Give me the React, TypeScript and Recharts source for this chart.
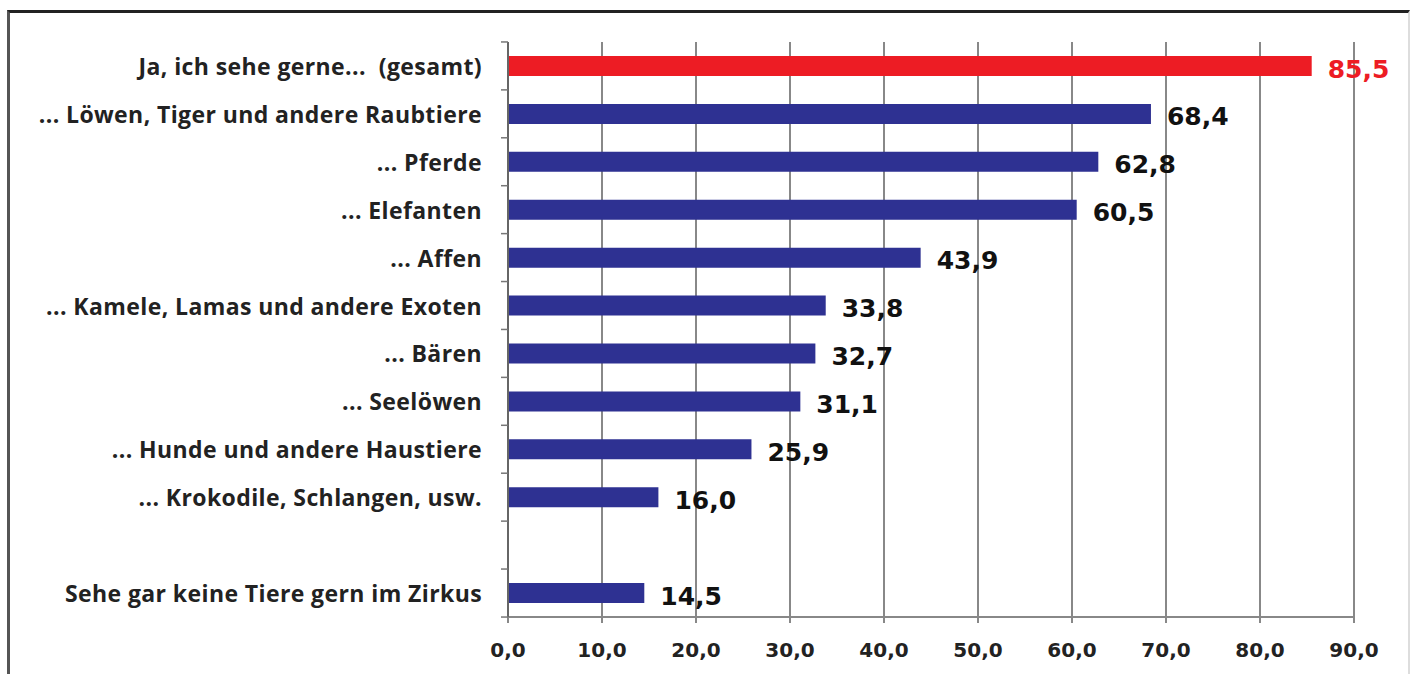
import { BarChart, Bar, XAxis, YAxis, CartesianGrid, LabelList, Cell } from "recharts"

const categories = [
  "Ja, ich sehe gerne...  (gesamt)",
  "... Löwen, Tiger und andere Raubtiere",
  "... Pferde",
  "... Elefanten",
  "... Affen",
  "... Kamele, Lamas und andere Exoten",
  "... Bären",
  "... Seelöwen",
  "... Hunde und andere Haustiere",
  "... Krokodile, Schlangen, usw.",
  "",
  "Sehe gar keine Tiere gern im Zirkus",
]
const values: (number | null)[] = [85.5, 68.4, 62.8, 60.5, 43.9, 33.8, 32.7, 31.1, 25.9, 16.0, null, 14.5]
const xTicks = [0, 10, 20, 30, 40, 50, 60, 70, 80, 90]

const RED = "#ed1c24"
const BLUE = "#2e3192"

const data = categories.map((name, i) => ({ name, value: values[i] }))

const fmt = (v: number) => v.toFixed(1).replace(".", ",")

// category label plus the small boundary tick marks Excel draws between rows
function YTick(props: any) {
  const { x, y, payload, index } = props
  const half = 24
  const ax = x + 26
  return (
    <g>
      <line x1={ax - 7} x2={ax} y1={y - half} y2={y - half} stroke="#777" strokeWidth={1.5} />
      {index === categories.length - 1 && (
        <line x1={ax - 7} x2={ax} y1={y + half} y2={y + half} stroke="#777" strokeWidth={1.5} />
      )}
      <text
        x={x}
        y={y}
        textAnchor="end"
        dominantBaseline="central"
        fill="#222"
        fontSize={23}
        fontWeight={700}
        fontFamily="Open Sans"
        letterSpacing={0.4}
        style={{ whiteSpace: "pre" }}
      >
        {payload.value}
      </text>
    </g>
  )
}

function ValueLabel(props: any) {
  const { x, y, width, height, value, index } = props
  if (value == null) return null
  return (
    <text
      x={x + width + 16}
      y={y + height / 2 + 3}
      dominantBaseline="central"
      fill={index === 0 ? RED : "#111"}
      fontSize={25}
      fontWeight={700}
      fontFamily="DejaVu Sans"
    >
      {fmt(value)}
    </text>
  )
}

export default function App() {
  return (
    <div style={{ position: "absolute", left: 0, top: 0, width: 1417, height: 674, background: "#fff", overflow: "hidden" }}>
      <div
        style={{
          position: "absolute",
          left: 7,
          top: 10,
          width: 1398,
          height: 680,
          borderTop: "3px solid #222",
          borderLeft: "3px solid #555",
          borderRight: "2px solid #ddd",
        }}
      />
      <div style={{ position: "absolute", left: 0, top: 0 }}>
        <BarChart
          width={1417}
          height={674}
          data={data}
          layout="vertical"
          margin={{ top: 42, right: 63, bottom: 17, left: 0 }}
          barCategoryGap={14}
        >
          <CartesianGrid horizontal={false} vertical stroke="#888" strokeWidth={2} />
          <XAxis
            type="number"
            domain={[0, 90]}
            ticks={xTicks}
            tickFormatter={fmt}
            stroke="#888"
            strokeWidth={2}
            tickSize={6}
            tickMargin={20}
            height={40}
            tick={{ fill: "#222", fontSize: 20, fontWeight: 700, fontFamily: "DejaVu Sans" }}
          />
          <YAxis
            type="category"
            dataKey="name"
            width={508}
            stroke="#666"
            strokeWidth={2}
            tickLine={false}
            interval={0}
            tick={(p: any) => <YTick {...p} x={482} />}
          />
          <Bar dataKey="value" barSize={20} isAnimationActive={false}>
            {data.map((d, i) => (
              <Cell key={i} fill={i === 0 ? RED : BLUE} />
            ))}
            <LabelList dataKey="value" content={ValueLabel} />
          </Bar>
        </BarChart>
      </div>
    </div>
  )
}
